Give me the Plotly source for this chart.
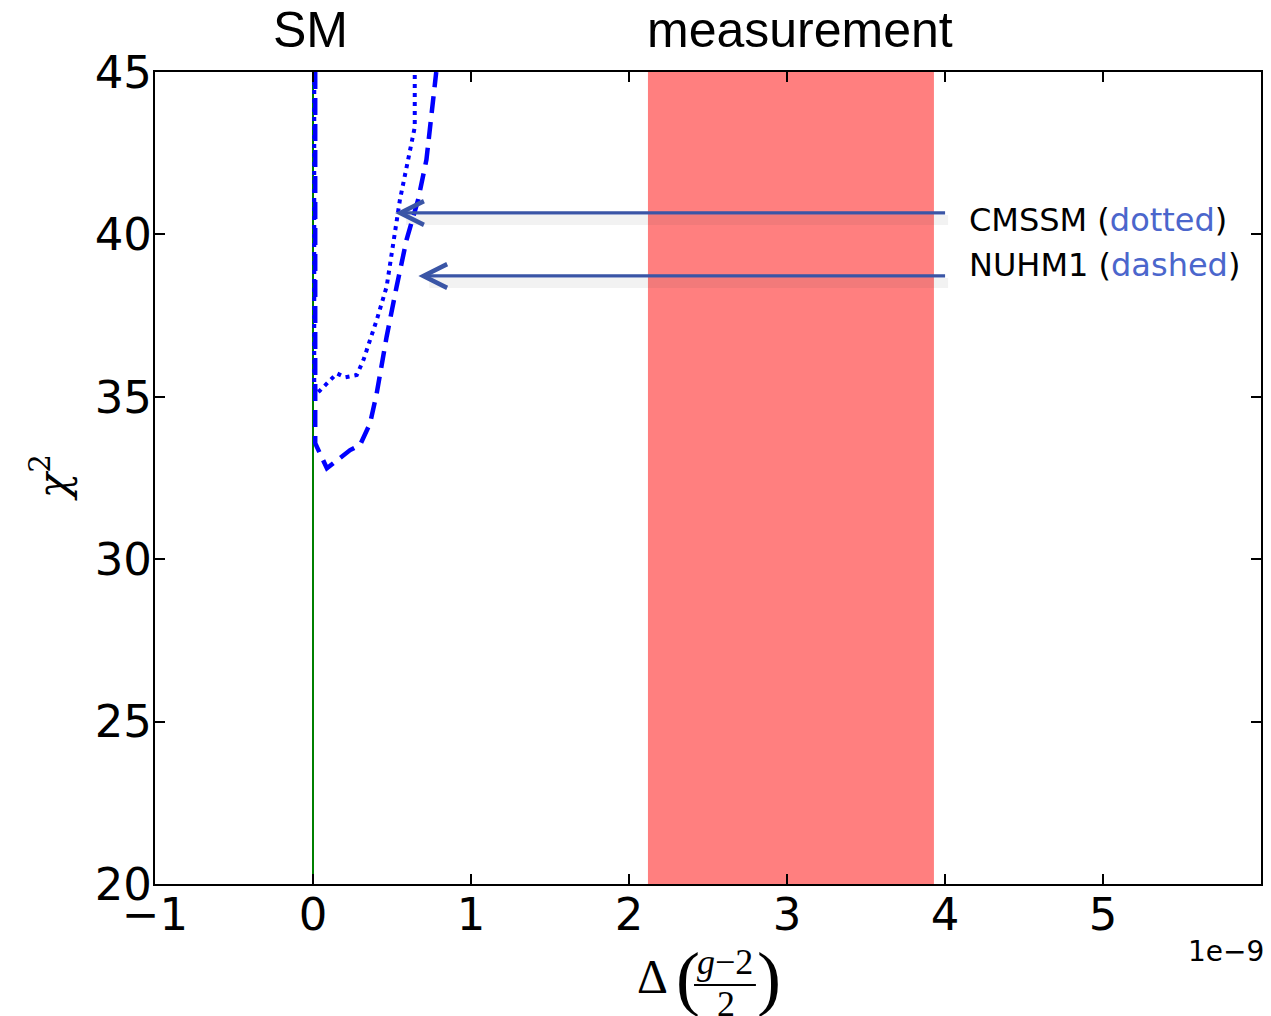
import plotly.graph_objects as go

# ---- data (x in units of 1e-9) ----
dotted_x = [0.008, 0.008, 0.025, 0.151, 0.203, 0.277, 0.319, 0.403, 0.466, 0.508, 0.550, 0.602, 0.644, 0.644]
dotted_y = [45.0, 35.3, 35.1, 35.72, 35.6, 35.67, 36.13, 37.36, 38.39, 39.83, 41.06, 42.3, 43.3, 45.0]
dashed_x = [0.014, 0.014, 0.088, 0.235, 0.298, 0.361, 0.403, 0.466, 0.529, 0.592, 0.665, 0.718, 0.780]
dashed_y = [45.0, 33.57, 32.8, 33.36, 33.52, 34.18, 35.1, 36.85, 38.39, 39.83, 41.06, 42.3, 45.0]
sm_value = 0.0
measure_lo, measure_hi = 2.12, 3.93
x_ticks = [-1, 0, 1, 2, 3, 4, 5]
y_ticks = [20, 25, 30, 35, 40, 45]
x_range = [-1, 6]
y_range = [20, 45]
arrow_labels = ["CMSSM", "NUHM1"]
arrow_styles = ["dotted", "dashed"]
arrow_tip_x = [0.52, 0.667]
arrow_tail_x = [4.01, 4.01]
arrow_y = [40.66, 38.72]

# ---- layout geometry (pixels) ----
W, H = 1271, 1016
L, R, T, B = 155, 1263, 72, 884


def px(xp):
    return (xp - L) / (R - L)


def py(yp):
    return (B - yp) / (B - T)


fig = go.Figure()

fig.add_shape(type="rect", xref="x", yref="paper", x0=measure_lo, x1=measure_hi,
              y0=0, y1=1, fillcolor="#ff7f7f", line_width=0, layer="below")

fig.add_trace(go.Scatter(x=[sm_value, sm_value], y=y_range, mode="lines",
                         line=dict(color="#008000", width=2), showlegend=False))
fig.add_trace(go.Scatter(x=dotted_x, y=dotted_y, mode="lines",
                         line=dict(color="#0000ff", width=4, dash="4px,5px"), showlegend=False))
fig.add_trace(go.Scatter(x=dashed_x, y=dashed_y, mode="lines",
                         line=dict(color="#0000ff", width=4.5, dash="17px,9px"), showlegend=False))

ann = []
# arrows with soft shadow
for tx, tl, yy in zip(arrow_tip_x, arrow_tail_x, arrow_y):
    ann.append(dict(x=tx + 0.05, y=yy, ax=tl, ay=yy, xref="x", yref="y", axref="x", ayref="y",
                    text="", showarrow=True, arrowhead=0, arrowwidth=10,
                    arrowcolor="rgba(60,60,60,0.06)", yshift=-7, xshift=3))
    ann.append(dict(x=tx, y=yy, ax=tl, ay=yy, xref="x", yref="y", axref="x", ayref="y",
                    text="", showarrow=True, arrowhead=5, arrowsize=1.45, arrowwidth=3.2,
                    arrowcolor="#3a55a6"))

label_y_px = [220, 265]
for lab, sty, yp in zip(arrow_labels, arrow_styles, label_y_px):
    ann.append(dict(x=px(968), y=py(yp), xref="paper", yref="paper", xanchor="left", yanchor="middle",
                    showarrow=False,
                    text=f"{lab} (<span style='color:#4b66cc'>{sty}</span>)",
                    font=dict(family="DejaVu Sans", size=32, color="black")))

# top labels
ann.append(dict(x=px(311), y=py(30), xref="paper", yref="paper", xanchor="center", yanchor="middle",
                showarrow=False, text="SM",
                font=dict(family="Liberation Sans Narrow, Liberation Sans", size=50, color="black")))
ann.append(dict(x=px(801), y=py(30), xref="paper", yref="paper", xanchor="center", yanchor="middle",
                showarrow=False, text="measurement",
                font=dict(family="Liberation Sans Narrow, Liberation Sans", size=50, color="black")))

# offset text
ann.append(dict(x=px(1268), y=py(951), xref="paper", yref="paper", xanchor="right", yanchor="middle",
                showarrow=False, text="1e\u22129",
                font=dict(family="DejaVu Sans", size=28, color="black")))

# y title chi^2
ann.append(dict(x=px(50), y=py(478), xref="paper", yref="paper", xanchor="center", yanchor="middle",
                showarrow=False, textangle=-90,
                text="<i>\u03c7</i><sup>2</sup>",
                font=dict(family="DejaVu Serif", size=42, color="black")))

# x title Delta((g-2)/2)
serif = "Liberation Serif, DejaVu Serif"
ann.append(dict(x=px(653), y=py(976), xref="paper", yref="paper", xanchor="center", yanchor="middle",
                showarrow=False, text="\u0394",
                font=dict(family=serif, size=48, color="black")))
ann.append(dict(x=px(689), y=py(978), xref="paper", yref="paper", xanchor="center", yanchor="middle",
                showarrow=False, text="(",
                font=dict(family=serif, size=72, color="black")))
ann.append(dict(x=px(770), y=py(978), xref="paper", yref="paper", xanchor="center", yanchor="middle",
                showarrow=False, text=")",
                font=dict(family=serif, size=72, color="black")))
ann.append(dict(x=px(726), y=py(962), xref="paper", yref="paper", xanchor="center", yanchor="middle",
                showarrow=False,
                text="<i>g</i>\u22122", font=dict(family=serif, size=36, color="black")))
ann.append(dict(x=px(727), y=py(1004), xref="paper", yref="paper", xanchor="center", yanchor="middle",
                showarrow=False,
                text="2", font=dict(family=serif, size=36, color="black")))

fig.add_shape(type="line", xref="paper", yref="paper", x0=px(695), x1=px(757),
              y0=py(985), y1=py(985), line=dict(color="black", width=2.2))

fig.update_layout(
    width=W, height=H,
    margin=dict(l=L, r=W - R, t=T, b=H - B),
    paper_bgcolor="white", plot_bgcolor="white",
    annotations=ann,
    font=dict(family="DejaVu Sans", size=45, color="black"),
)
fig.update_xaxes(range=x_range, tickvals=x_ticks, ticktext=[("\u2212" if v < 0 else "") + str(abs(v)) for v in x_ticks],
                 showgrid=False, zeroline=False, showline=True, linecolor="black", linewidth=2,
                 mirror="allticks", ticks="inside", ticklen=10, tickwidth=1.5, tickcolor="black",
                 ticklabelstandoff=-10, tickfont=dict(family="DejaVu Sans", size=45))
fig.update_yaxes(range=y_range, tickvals=y_ticks, ticktext=[str(v) for v in y_ticks],
                 showgrid=False, zeroline=False, showline=True, linecolor="black", linewidth=2,
                 mirror="allticks", ticks="inside", ticklen=10, tickwidth=1.5, tickcolor="black",
                 ticklabelstandoff=-8, tickfont=dict(family="DejaVu Sans", size=45))

fig.write_html("out.html", config={"displayModeBar": False},
               post_script="document.body.style.margin='0';document.body.style.overflow='hidden';")
